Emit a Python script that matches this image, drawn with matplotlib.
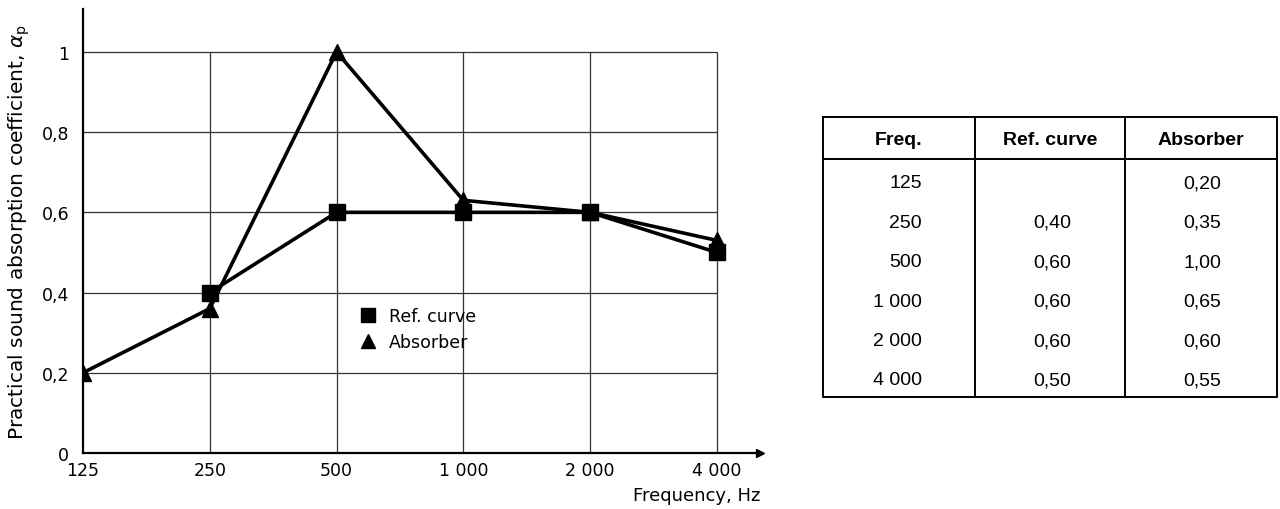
import matplotlib.pyplot as plt
from matplotlib.ticker import FixedLocator, FixedFormatter, NullLocator

# values
freq = [125, 250, 500, 1000, 2000, 4000]
freq_labels = ['125', '250', '500', '1 000', '2 000', '4 000']
ref_freq = [250, 500, 1000, 2000, 4000]
ref_curve = [0.40, 0.60, 0.60, 0.60, 0.50]
absorber = [0.20, 0.36, 1.00, 0.63, 0.60, 0.53]
y_ticks = [0, 0.2, 0.4, 0.6, 0.8, 1.0]
y_labels = ['0', '0,2', '0,4', '0,6', '0,8', '1']

# table contents
tab_header = ['Freq.', 'Ref. curve', 'Absorber']
tab_freq = ['125', '250', '500', '1 000', '2 000', '4 000']
tab_ref = ['', '0,40', '0,60', '0,60', '0,60', '0,50']
tab_abs = ['0,20', '0,35', '1,00', '0,65', '0,60', '0,55']

plt.rcParams['font.family'] = 'DejaVu Sans'

fig = plt.figure(figsize=(12.8, 5.1), dpi=100)
ax = fig.add_axes([83 / 1280, 56 / 510, 677 / 1280, 444 / 510])

ax.set_xscale('log', base=2)
ax.set_xlim(125, 4000 * 2 ** 0.34)
ax.set_ylim(0, 1.107)

# grid only inside the data region
ax.hlines(y_ticks[1:], freq[0], freq[-1], color='#333333', lw=0.9, zorder=1)
ax.vlines(freq[1:], 0, 1.0, color='#333333', lw=0.9, zorder=1)

ax.plot(ref_freq, ref_curve, color='black', lw=2.6, marker='s', ms=11,
        label='Ref. curve', zorder=3)
ax.plot(freq, absorber, color='black', lw=2.6, marker='^', ms=11,
        label='Absorber', zorder=3)

for s in ['top', 'right']:
    ax.spines[s].set_visible(False)
for s in ['left', 'bottom']:
    ax.spines[s].set_linewidth(1.6)
ax.plot(1, 0, '>k', ms=6, transform=ax.get_yaxis_transform(), clip_on=False)
ax.plot(0, 1, '^k', ms=6, transform=ax.get_xaxis_transform(), clip_on=False)

ax.xaxis.set_major_locator(FixedLocator(freq))
ax.xaxis.set_major_formatter(FixedFormatter(freq_labels))
ax.xaxis.set_minor_locator(NullLocator())
ax.set_yticks(y_ticks)
ax.set_yticklabels(y_labels)
ax.tick_params(length=0, labelsize=12.5)
ax.tick_params(axis='x', pad=6)
ax.tick_params(axis='y', pad=10)

ax.set_xlabel('Frequency, Hz', fontsize=13, loc='right', labelpad=5)
ax.set_ylabel(r'Practical sound absorption coefficient, $\alpha_\mathrm{p}$',
              fontsize=14.5, labelpad=7)

leg = ax.legend(loc='center left', bbox_to_anchor=(0.385, 0.28), frameon=False,
                fontsize=12.5, handlelength=1.0, handletextpad=0.7,
                labelspacing=0.45, markerscale=0.95)
for h in leg.legend_handles:
    h.set_linestyle('none')

# table on the right, coordinates in pixels from its top-left corner
tx = fig.add_axes([823 / 1280, 112 / 510, 454 / 1280, 280 / 510])
tx.set_xlim(0, 454)
tx.set_ylim(280, 0)
tx.axis('off')
col_edges = [0, 152, 302, 454]
tx.plot([0, 454, 454, 0, 0], [0, 0, 280, 280, 0], color='black', lw=1.4,
        clip_on=False)
tx.vlines(col_edges[1:3], 0, 280, color='black', lw=1.4)
tx.hlines(42, 0, 454, color='black', lw=1.4)

for i, h in enumerate(tab_header):
    tx.text((col_edges[i] + col_edges[i + 1]) / 2, 23, h, ha='center',
            va='center', fontsize=14, fontweight='bold', family='Liberation Sans')
for r in range(len(tab_freq)):
    y = 66 + 39.4 * r
    tx.text(99, y, tab_freq[r], ha='right', va='center', fontsize=14,
            family='Liberation Sans')
    tx.text(229, y, tab_ref[r], ha='center', va='center', fontsize=14,
            family='Liberation Sans')
    tx.text(379, y, tab_abs[r], ha='center', va='center', fontsize=14,
            family='Liberation Sans')

fig.savefig('out.png', dpi=100)
